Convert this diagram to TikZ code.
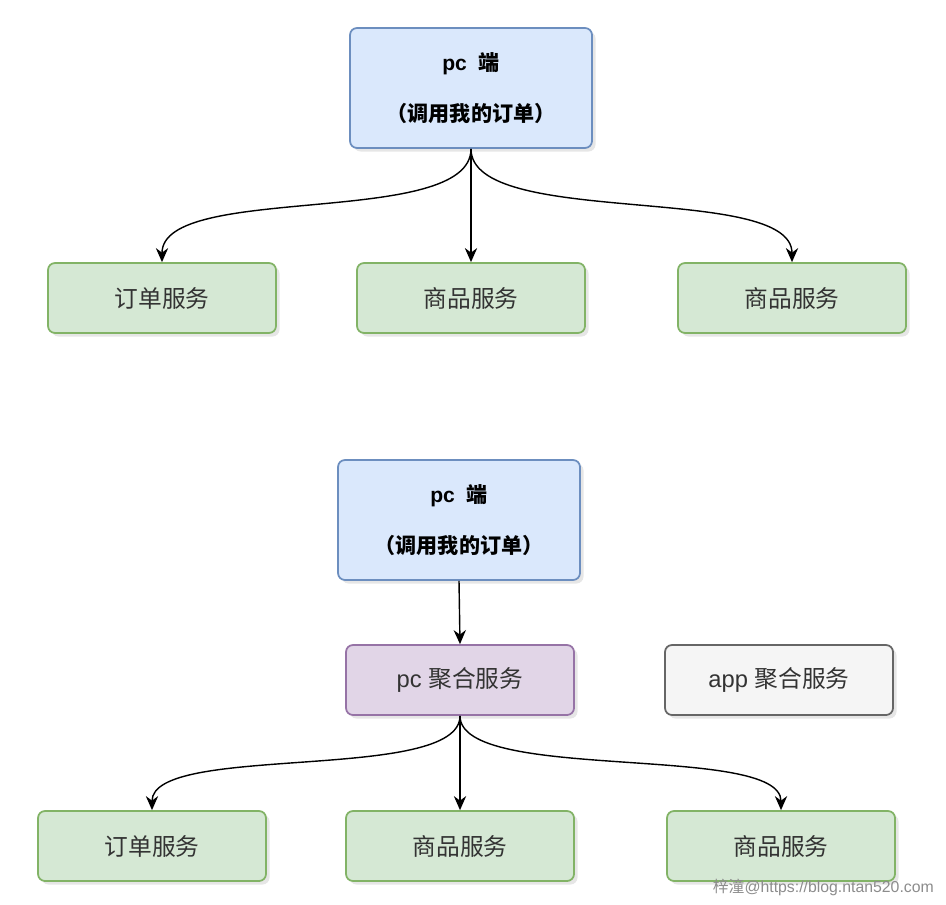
\documentclass[tikz,border=0pt]{standalone}
\usepackage{fontspec}
\setmainfont{Liberation Sans}
\newfontfamily\cjk{Noto Sans CJK SC}
\usetikzlibrary{arrows.meta, shadows}

\begin{document}
\begin{tikzpicture}[scale=1,
  box/.style={rectangle, rounded corners=4pt, line width=1pt, minimum width=4.56cm, minimum height=1.4cm,
    drop shadow={shadow xshift=2pt, shadow yshift=-2pt, opacity=0.2},
    font=\fontsize{13.5}{16}\selectfont, text=black!80},
  pcbox/.style={box, fill=pcfill, draw=pcline, minimum width=4.84cm, minimum height=2.4cm,
    align=center, font=\fontsize{12}{15}\selectfont\bfseries, text=black},
  svcbox/.style={box, fill=svcfill, draw=svcline},
  aggbox/.style={box, fill=aggfill, draw=aggline},
  appbox/.style={box, fill=appfill, draw=appline},
  link/.style={line width=0.8pt, -{Stealth[length=8pt,width=7pt]}}]
\definecolor{pcfill}{HTML}{DAE8FC}
\definecolor{pcline}{HTML}{6C8EBF}
\definecolor{svcfill}{HTML}{D5E8D4}
\definecolor{svcline}{HTML}{82B366}
\definecolor{aggfill}{HTML}{E1D5E7}
\definecolor{aggline}{HTML}{9673A6}
\definecolor{appfill}{HTML}{F5F5F5}
\definecolor{appline}{HTML}{666666}
\useasboundingbox (0,0) rectangle (18.92,-18.08);

\node[pcbox] (pcA) at (9.42,-1.76) {pc\ \ {\cjk 端}\\[14pt]{\cjk （调用我的订单）}};
\node[svcbox] (orderA) at (3.24,-5.96) {\cjk 订单服务};
\node[svcbox] (goodsA) at (9.42,-5.96) {\cjk 商品服务};
\node[svcbox] (goodsB) at (15.84,-5.96) {\cjk 商品服务};

\draw[link] (pcA.south) .. controls +(0,-1.6) and +(0,1.6) .. (orderA.north);
\draw[link] (pcA.south) -- (goodsA.north);
\draw[link] (pcA.south) .. controls +(0,-1.6) and +(0,1.6) .. (goodsB.north);

\node[pcbox] (pcB) at (9.18,-10.4) {pc\ \ {\cjk 端}\\[14pt]{\cjk （调用我的订单）}};
\node[aggbox] (pcagg) at (9.2,-13.6) {pc {\cjk 聚合服务}};
\node[appbox] (appagg) at (15.58,-13.6) {app {\cjk 聚合服务}};
\node[svcbox] (orderC) at (3.04,-16.92) {\cjk 订单服务};
\node[svcbox] (goodsC) at (9.2,-16.92) {\cjk 商品服务};
\node[svcbox] (goodsD) at (15.62,-16.92) {\cjk 商品服务};

\draw[link] (pcB.south) -- (pcagg.north);
\draw[link] (pcagg.south) .. controls +(0,-1.35) and +(0,1.35) .. (orderC.north);
\draw[link] (pcagg.south) -- (goodsC.north);
\draw[link] (pcagg.south) .. controls +(0,-1.35) and +(0,1.35) .. (goodsD.north);

\node[anchor=east, text=black!45, font=\fontsize{9}{11}\selectfont] (mark) at (18.8,-17.74) {{\cjk 梓潼}@https://blog.ntan520.com};
\end{tikzpicture}
\end{document}
